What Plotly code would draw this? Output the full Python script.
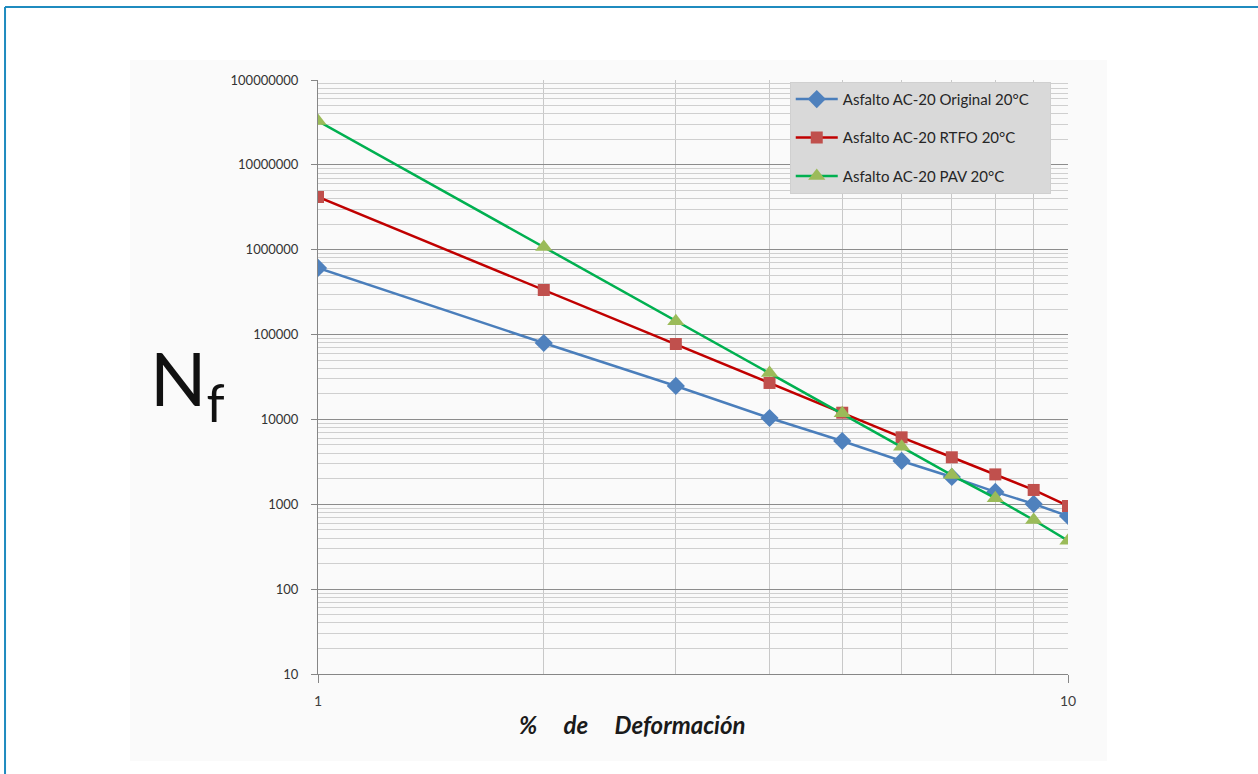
import plotly.graph_objects as go

deformacion = [1, 2, 3, 4, 5, 6, 7, 8, 9, 10]
original_20 = [610000, 79600, 24800, 10400, 5570, 3240, 2100, 1400, 1010, 728]
rtfo_20 = [4180000, 335000, 77400, 26900, 12000, 6150, 3580, 2250, 1475, 955]
pav_20 = [32900000, 1080000, 144000, 35200, 11800, 4780, 2210, 1180, 653, 372]

series_names = ["Asfalto AC-20 Original 20°C", "Asfalto AC-20 RTFO 20°C", "Asfalto AC-20 PAV 20°C"]

y_major = [10, 100, 1000, 10000, 100000, 1000000, 10000000, 100000000]
y_major_text = [str(v) for v in y_major]
y_minor = [k * 10 ** n for n in range(1, 8) for k in range(2, 10)]
x_major = [1, 10]
x_minor = [2, 3, 4, 5, 6, 7, 8, 9]

fig = go.Figure()
styles = [
    dict(line=dict(color="#4a7ebb", width=2.5), marker=dict(symbol="diamond", size=14, color="#4f81bd")),
    dict(line=dict(color="#c00000", width=2.5), marker=dict(symbol="square", size=12, color="#c0504d")),
    dict(line=dict(color="#00b050", width=2.5), marker=dict(symbol="triangle-up", size=15, color="#9bbb59")),
]
pad = "\u00a0" * 4
for name, ys, st, g in zip(series_names, [original_20, rtfo_20, pav_20], styles, ["a", "b", "c"]):
    fig.add_trace(go.Scatter(x=deformacion, y=ys, name=name + pad, mode="lines+markers",
                             legendgroup=g, **st))

font_fam = "Lato, 'Open Sans', sans-serif"
fig.update_layout(
    width=1258, height=774,
    margin=dict(l=318, r=190, t=80, b=100),
    paper_bgcolor="white", plot_bgcolor="white",
    font=dict(family=font_fam, color="#404040"),
    showlegend=True,
    legend=dict(x=0.629, y=0.997, xanchor="left", yanchor="top",
                bgcolor="#d9d9d9", bordercolor="#d0d0d0", borderwidth=1,
                font=dict(size=15, color="#262626", family=font_fam),
                tracegroupgap=16, itemwidth=42),
    xaxis=dict(type="log", range=[0, 1], tickvals=x_major, ticktext=["1", "10"],
               ticks="outside", ticklen=8, tickcolor="#868686",
               showline=True, linecolor="#868686", linewidth=1,
               showgrid=True, gridcolor="#c8c8c8", gridwidth=1, zeroline=False,
               tickfont=dict(size=14, color="#404040"), ticklabelstandoff=6,
               minor=dict(tickvals=x_minor, showgrid=True, gridcolor="#c8c8c8", gridwidth=1, ticks="")),
    yaxis=dict(type="log", range=[1, 8], tickvals=y_major, ticktext=y_major_text,
               ticks="outside", ticklen=6, tickcolor="#868686",
               showline=True, linecolor="#868686", linewidth=1,
               showgrid=True, gridcolor="#8c8c8c", gridwidth=1, zeroline=False,
               tickfont=dict(size=13, color="#333333"), ticklabelstandoff=10,
               minor=dict(tickvals=y_minor, showgrid=True, gridcolor="#cfcfcf", gridwidth=1, ticks="")),
    shapes=[
        dict(type="rect", xref="paper", yref="paper", x0=-0.2507, x1=1.052, y0=-0.1465, y1=1.0337,
             fillcolor="#fafafa", line=dict(width=0), layer="below"),
        dict(type="line", xref="paper", yref="paper", x0=-0.4173, x1=1.26, y0=1.1229, y1=1.1229,
             line=dict(color="#1f8bbf", width=2), layer="below"),
        dict(type="line", xref="paper", yref="paper", x0=-0.4173, x1=-0.4173, y0=-0.17, y1=1.1229,
             line=dict(color="#1f8bbf", width=2), layer="below"),
    ],
    annotations=[
        dict(text="<b><i>%\u00a0\u00a0\u00a0\u00a0\u00a0de\u00a0\u00a0\u00a0\u00a0\u00a0Deformación</i></b>",
             xref="paper", yref="paper", x=(632 - 318) / 750, y=(674 - 724) / 594,
             xanchor="center", yanchor="middle", showarrow=False,
             font=dict(size=24, color="#1a1a1a", family=font_fam)),
        dict(text="N<sub>f</sub>", xref="paper", yref="paper", x=(187 - 318) / 750, y=(674 - 383) / 594,
             xanchor="center", yanchor="middle", showarrow=False,
             font=dict(size=74, color="#111111", family=font_fam)),
    ],
)

fig.write_html("out.html", post_script="document.body.style.margin='0';",
               config={"displayModeBar": False})
